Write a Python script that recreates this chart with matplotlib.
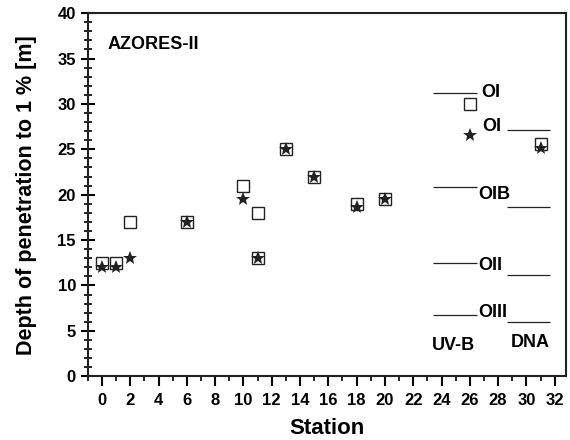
import matplotlib.pyplot as plt
from matplotlib.ticker import MultipleLocator

plt.rcParams['font.family'] = ['Liberation Sans', 'DejaVu Sans']
plt.rcParams['font.weight'] = 'bold'

# 1 % penetration depth per station (open squares: UV-B, stars: DNA)
uvb_station = [0, 1, 2, 6, 10, 11, 11, 13, 15, 18, 20, 26, 31]
uvb_depth = [12.5, 12.5, 17, 17, 21, 18, 13, 25, 22, 19, 19.5, 30, 25.6]
dna_station = [0, 1, 2, 6, 10, 11, 13, 15, 18, 20, 26, 31]
dna_depth = [12, 12, 13, 17, 19.5, 13, 25, 22, 18.6, 19.5, 26.6, 25.1]

# Jerlov water type reference levels
water_types = ["OI", "OIB", "OII", "OIII"]
uvb_levels = [31.2, 20.8, 12.5, 6.7]
dna_levels = [27.1, 18.6, 11.2, 6.0]

fig = plt.figure(figsize=(5.7, 4.4), dpi=100)
ax = fig.add_axes([0.154, 0.145, 0.839, 0.825])

ax.plot(uvb_station, uvb_depth, ls='none', marker='s', ms=8.5,
        mfc='none', mec='#222222', mew=1.0)
ax.plot(dna_station, dna_depth, ls='none', marker='*', ms=10,
        color='#222222', mew=0)

# reference lines with labels
fs = 13
ax.hlines(uvb_levels, 23.4, 26.5, color='#222222', lw=0.9)
ax.hlines(dna_levels, 28.6, 31.7, color='#222222', lw=0.9)
uvb_label_y = [31.3, 20.0, 12.2, 7.0]
ax.text(26.8, uvb_label_y[0], water_types[0], fontsize=fs, fontweight='bold', va='center')
ax.text(26.9, 27.5, water_types[0], fontsize=fs, fontweight='bold', va='center')
for name, y in zip(water_types[1:], uvb_label_y[1:]):
    ax.text(26.6, y, name, fontsize=fs, fontweight='bold', va='center')
ax.text(23.3, 3.4, "UV-B", fontsize=fs, fontweight='bold', va='center')
ax.text(28.9, 3.7, "DNA", fontsize=fs, fontweight='bold', va='center')
ax.text(0.4, 36.5, "AZORES-II", fontsize=fs, fontweight='bold', va='center')

ax.set_xlim(-1, 32.8)
ax.set_ylim(0, 40)
ax.xaxis.set_major_locator(MultipleLocator(2))
ax.xaxis.set_minor_locator(MultipleLocator(1))
ax.yaxis.set_major_locator(MultipleLocator(5))
ax.yaxis.set_minor_locator(MultipleLocator(1))
ax.tick_params(axis='x', which='major', direction='out', length=7, width=1.5, labelsize=12, pad=5)
ax.tick_params(axis='x', which='minor', direction='out', length=3.5, width=1.2)
ax.tick_params(axis='y', which='major', direction='inout', length=10, width=1.5, labelsize=12)
ax.tick_params(axis='y', which='minor', direction='inout', length=6, width=1.2)
ax.tick_params(top=False, right=False, which='both')
for s in ax.spines.values():
    s.set_linewidth(1.5)
    s.set_color('#222222')

ax.set_xlabel("Station", fontsize=16, fontweight='bold')
ax.set_ylabel("Depth of penetration to 1 % [m]", fontsize=15.5, fontweight='bold')
ax.xaxis.set_label_coords(0.5, -0.115)
ax.yaxis.set_label_coords(-0.107, 0.5)

fig.savefig("out.png", dpi=100)
